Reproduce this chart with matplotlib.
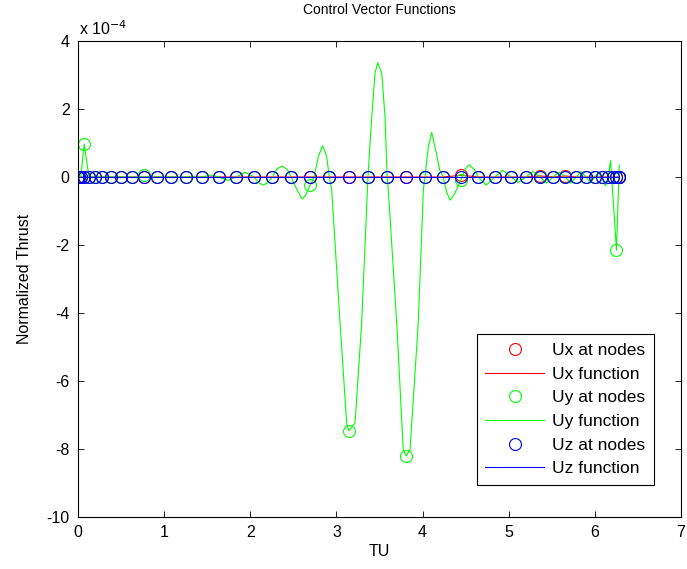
import matplotlib
matplotlib.use("Agg")
import matplotlib.pyplot as plt
from matplotlib.ticker import MultipleLocator

plt.rcParams['font.family'] = ['Liberation Sans', 'DejaVu Sans']
plt.rcParams['axes.unicode_minus'] = False

# Collocation nodes (TU)
nodes = [0.000, 0.008, 0.032, 0.072, 0.127, 0.198, 0.284, 0.384, 0.499, 0.627,
         0.767, 0.920, 1.084, 1.259, 1.443, 1.636, 1.837, 2.044, 2.256, 2.474,
         2.695, 2.917, 3.142, 3.366, 3.589, 3.809, 4.027, 4.239, 4.447, 4.647,
         4.840, 5.024, 5.199, 5.363, 5.516, 5.657, 5.784, 5.899, 5.999, 6.085,
         6.156, 6.211, 6.251, 6.275, 6.283]

# Control values at the nodes (units of 1e-4)
ux_nodes = [0.0] * 45
ux_nodes[28] = 0.05
ux_nodes[33] = 0.03
ux_nodes[35] = 0.03

uy_nodes = [0.0] * 45
uy_nodes[3] = 0.97
uy_nodes[10] = 0.05
uy_nodes[20] = -0.24
uy_nodes[22] = -7.46
uy_nodes[25] = -8.20
uy_nodes[28] = -0.08
uy_nodes[42] = -2.15

uz_nodes = [0.0] * 45

# Uy control function samples (TU, units of 1e-4)
uy_t = [0.000, 0.032, 0.072, 0.127, 1.443, 1.54, 1.636, 1.74, 1.837, 1.94,
        2.044, 2.10, 2.15, 2.20, 2.256, 2.31, 2.37, 2.43, 2.474, 2.544,
        2.60, 2.64, 2.695, 2.74, 2.79, 2.84, 2.887, 2.917, 2.945, 3.042,
        3.119, 3.142, 3.216, 3.293, 3.366, 3.41, 3.448, 3.479, 3.526, 3.564,
        3.589, 3.602, 3.700, 3.776, 3.809, 3.854, 3.950, 4.009, 4.027, 4.067,
        4.106, 4.144, 4.20, 4.239, 4.28, 4.32, 4.37, 4.447, 4.49, 4.54,
        4.60, 4.647, 4.74, 4.840, 4.93, 5.024, 5.11, 5.199, 5.28, 5.363,
        5.44, 5.516, 5.586, 5.657, 5.72, 5.784, 5.841, 5.899, 5.949, 5.999,
        6.042, 6.085, 6.122, 6.156, 6.182, 6.251, 6.283]
uy_f = [0.0, 0.0, 0.97, 0.0, 0.0, 0.06, 0.0, -0.10, 0.0, 0.14,
        0.0, -0.17, -0.24, -0.17, 0.0, 0.24, 0.32, 0.22, 0.0, -0.38,
        -0.65, -0.55, -0.24, 0.0, 0.60, 0.92, 0.60, 0.0, -0.38, -4.29,
        -7.24, -7.46, -7.24, -4.29, 0.0, 1.77, 3.05, 3.36, 3.05, 1.77,
        0.0, -0.38, -4.29, -8.03, -8.20, -8.03, -4.29, -0.38, 0.0, 0.89,
        1.31, 0.89, 0.20, 0.0, -0.45, -0.68, -0.50, -0.08, 0.22, 0.36,
        0.22, 0.0, -0.24, 0.0, 0.20, 0.0, -0.16, 0.0, 0.16, 0.0,
        -0.18, 0.0, 0.14, 0.0, -0.18, 0.0, 0.16, 0.0, -0.17, 0.0,
        0.12, 0.0, -0.26, 0.0, 0.48, -2.15, 0.35]

W, H = 687, 569
fig = plt.figure(figsize=(W / 100, H / 100), dpi=100)
ax = fig.add_axes([78 / W, 1 - 517 / H, 603 / W, 476 / H])

ms, mew, lw = 8.6, 0.8, 0.8
ax.plot(nodes, ux_nodes, 'o', mfc='none', mec=(1, 0, 0), ms=ms, mew=mew, label='Ux at nodes')
ax.plot(nodes, ux_nodes, '-', color=(1, 0, 0), lw=lw, label='Ux function')
ax.plot(nodes, uy_nodes, 'o', mfc='none', mec=(0, 1, 0), ms=ms, mew=mew, label='Uy at nodes')
ax.plot(uy_t, uy_f, '-', color=(0, 1, 0), lw=lw, label='Uy function')
ax.plot(nodes, uz_nodes, 'o', mfc='none', mec=(0, 0, 1), ms=ms, mew=mew, label='Uz at nodes')
ax.plot(nodes, uz_nodes, '-', color=(0, 0, 1), lw=lw, label='Uz function')

ax.set_xlim(0, 7)
ax.set_ylim(-10, 4)
ax.xaxis.set_major_locator(MultipleLocator(1))
ax.yaxis.set_major_locator(MultipleLocator(2))
ax.tick_params(direction='in', length=4.5, width=0.6, top=True, right=True,
               labelsize=11.5, pad=6)
for s in ax.spines.values():
    s.set_linewidth(0.8)

ax.set_xlabel('TU', fontsize=11.5)
ax.xaxis.set_label_coords(0.5, -0.056)
ax.set_ylabel('Normalized Thrust', fontsize=11.5)
ax.yaxis.set_label_coords(-0.076, 0.5)
fig.text(379.5 / W, 1 - 10 / H, 'Control Vector Functions', ha='center', va='center', fontsize=10)
fig.text(79 / W, 1 - 29 / H, r'x 10$^{-4}$', ha='left', va='center', fontsize=11.5)

leg = ax.legend(loc='lower right', bbox_to_anchor=(0.955, 0.067), fontsize=12.5,
                fancybox=False, framealpha=1, edgecolor='black',
                handlelength=3.4, handletextpad=0.45, labelspacing=0.49,
                borderpad=0.5, borderaxespad=0)
leg.get_frame().set_linewidth(0.8)

fig.savefig('out.png', dpi=100)
